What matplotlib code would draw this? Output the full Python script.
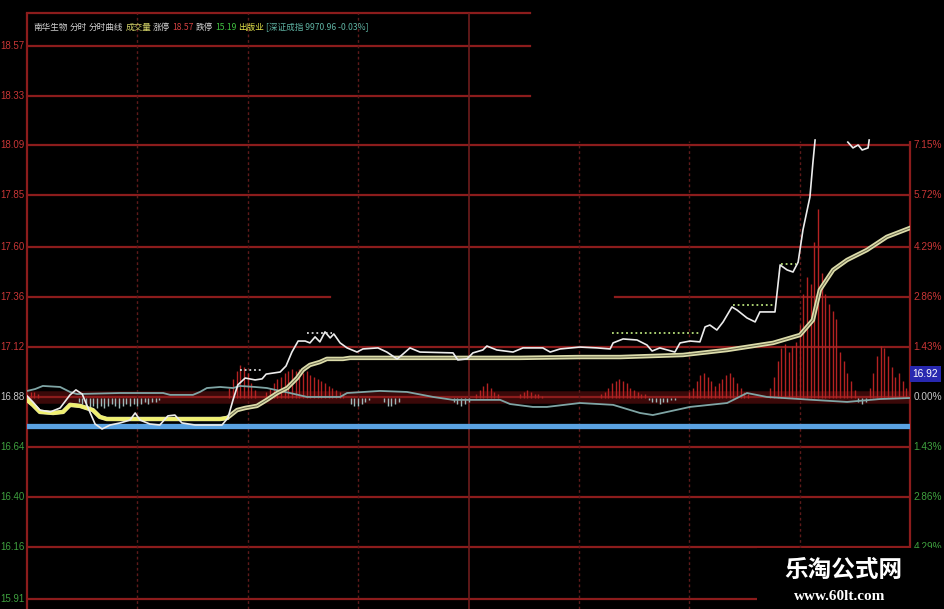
import matplotlib
matplotlib.use("Agg")
import matplotlib.pyplot as plt
from matplotlib.patches import Rectangle
from matplotlib.transforms import blended_transform_factory

# ---- data ----
prev_close = 16.88
price_ticks = [18.57, 18.33, 18.09, 17.85, 17.60, 17.36, 17.12, 16.88, 16.64, 16.40, 16.16, 15.91]
pct_labels = ["7.15%", "5.72%", "4.29%", "2.86%", "1.43%", "0.00%", "1.43%", "2.86%", "4.29%"]
pct_prices = [18.09, 17.85, 17.60, 17.36, 17.12, 16.88, 16.64, 16.40, 16.16]

# minute of day (0..240) and price of the intraday price line
price_min = [0, 1.6, 3.5, 6.3, 9, 11.7, 13.3, 15, 16.6, 18.5, 20.4, 22.6, 25.3, 28, 29.4, 30.7,
             33.4, 36.1, 38.3, 40.2, 42.1, 45.7, 53, 54.6, 56, 57.3, 59.3, 62, 63.9, 65, 68.8,
             70.4, 72, 73.7, 75.6, 76.9, 78.3, 79.6, 81, 82.4, 83.4, 85.1, 87, 89.7, 91.3, 95.4,
             97.8, 100.6, 101.9, 104.1, 106.8, 115.8, 117.1, 119.6, 121.2, 123.9, 125, 127.7,
             132.1, 134.8, 140.2, 142.2, 144.9, 150.3, 154.9, 158.5, 159.3, 162, 165.8, 168.5,
             169.9, 172, 176.1, 177.5, 180.2, 182.9, 184.3, 185.6, 187.5, 189.2, 191.6, 193,
             195.7, 197.9, 199.2, 203.3, 204.7, 206.6, 208.2, 209.6, 210.9, 212.8, 213.6, 214.2,
             218, 223.1, 224.5, 225.9, 227, 228.6, 228.9, 234]
price_val = [16.885, 16.856, 16.817, 16.808, 16.827, 16.89, 16.914, 16.894, 16.827, 16.75, 16.726,
             16.745, 16.755, 16.769, 16.803, 16.769, 16.75, 16.745, 16.789, 16.793, 16.755, 16.745,
             16.745, 16.779, 16.866, 16.938, 16.971, 16.962, 16.967, 16.99, 17.0, 17.029, 17.096,
             17.149, 17.149, 17.14, 17.169, 17.145, 17.193, 17.164, 17.183, 17.14, 17.116, 17.096,
             17.111, 17.116, 17.096, 17.063, 17.082, 17.116, 17.096, 17.092, 17.058, 17.063,
             17.092, 17.106, 17.125, 17.106, 17.096, 17.116, 17.116, 17.096, 17.111, 17.12,
             17.116, 17.111, 17.14, 17.159, 17.154, 17.13, 17.101, 17.116, 17.096, 17.14, 17.149,
             17.145, 17.217, 17.226, 17.202, 17.241, 17.313, 17.298, 17.26, 17.241, 17.289,
             17.289, 17.515, 17.491, 17.481, 17.529, 17.683, 17.842, 18.005, 18.116,
             float("nan"), 18.106, 18.078, 18.092, 18.068, 18.078, 18.116, float("nan")]

# average price line
avg_min = [0, 1.6, 3.5, 7.1, 9.8, 11.7, 14.4, 17.9, 19.8, 21.7, 52.5, 54.4, 57.1, 59.3, 62.5, 65.2,
           68, 70.7, 73.4, 75, 76.9, 79.6, 81.5, 85.9, 87.8, 134, 150.3, 161.2, 178.3, 190.3,
           202.8, 210.1, 213.6, 215.5, 219.1, 222.9, 228.3, 233.7, 240]
avg_val = [16.866, 16.842, 16.808, 16.803, 16.808, 16.842, 16.837, 16.817, 16.784, 16.774, 16.774,
           16.779, 16.817, 16.827, 16.837, 16.866, 16.899, 16.923, 16.971, 17.01, 17.034, 17.048,
           17.063, 17.063, 17.068, 17.068, 17.072, 17.072, 17.082, 17.106, 17.14, 17.178, 17.25,
           17.395, 17.491, 17.539, 17.587, 17.65, 17.693]

# grey indicator line
ind_min = [0, 2.2, 4.3, 9, 11.7, 13.6, 25.3, 37, 38.9, 45.1, 47, 48.9, 52.5, 56, 57.9, 62, 65.2,
           68.8, 71.5, 76.1, 85.1, 87, 95.9, 103.3, 110.4, 115.8, 128.6, 131.3, 137.5, 141.3,
           150.3, 159.3, 166.6, 170.1, 180.2, 190.3, 195.7, 201.1, 213.6, 222.9, 231.8, 240]
ind_val = [16.909, 16.918, 16.933, 16.928, 16.904, 16.894, 16.899, 16.899, 16.89, 16.89, 16.904,
           16.923, 16.928, 16.923, 16.933, 16.928, 16.923, 16.909, 16.899, 16.88, 16.88, 16.899,
           16.909, 16.904, 16.88, 16.866, 16.866, 16.846, 16.832, 16.832, 16.851, 16.842, 16.803,
           16.793, 16.832, 16.851, 16.899, 16.88, 16.866, 16.856, 16.87, 16.875]

# histogram bars: (first minute, bar values one per minute)
hist_runs = [
    (0, [0.02, 0.03, 0.03, 0.02]),
    (14, [-0.02, -0.03, -0.04, -0.05, -0.04, -0.05, -0.04, -0.05, -0.04, -0.03, -0.04, -0.05,
          -0.04, -0.03, -0.04, -0.03, -0.04, -0.03, -0.02, -0.03, -0.02, -0.02, -0.01]),
    (55, [0.05, 0.09, 0.13, 0.16, 0.15, 0.12, 0.07, 0.04]),
    (65, [0.03, 0.05, 0.07, 0.09, 0.10, 0.12, 0.13, 0.14, 0.13, 0.14, 0.12, 0.13, 0.11, 0.10,
          0.09, 0.08, 0.07, 0.06, 0.05, 0.04, 0.03, 0.02]),
    (88, [-0.03, -0.04, -0.04, -0.03, -0.02, -0.01]),
    (97, [-0.02, -0.04, -0.04, -0.03, -0.02]),
    (116, [-0.02, -0.03, -0.04, -0.03, -0.02]),
    (122, [0.02, 0.04, 0.06, 0.07, 0.05, 0.03, 0.02]),
    (134, [0.02, 0.03, 0.04, 0.03, 0.02, 0.02, 0.01]),
    (156, [0.02, 0.03, 0.05, 0.07, 0.08, 0.09, 0.08, 0.07, 0.05, 0.04, 0.03, 0.02, 0.02]),
    (169, [-0.01, -0.02, -0.02, -0.03, -0.02, -0.02, -0.01, -0.01]),
    (180, [0.03, 0.05, 0.08, 0.11, 0.12, 0.10, 0.08, 0.06, 0.07, 0.09, 0.11, 0.12, 0.10, 0.07,
           0.05, 0.03, 0.02]),
    (202, [0.05, 0.10, 0.18, 0.24, 0.26, 0.22, 0.25, 0.27, 0.35, 0.50, 0.58, 0.55, 0.75, 0.91,
           0.60, 0.50, 0.45, 0.42, 0.38, 0.22, 0.18, 0.12, 0.08, 0.04]),
    (226, [-0.02, -0.03, -0.02]),
    (229, [0.05, 0.12, 0.20, 0.25, 0.24, 0.20, 0.15, 0.10, 0.12, 0.08, 0.05, 0.03]),
]

# dotted level marks: (start minute, end minute, price, colour)
levels = [(58, 64, 17.01, "#d8d8d8"), (76, 83, 17.19, "#d8d8d8"),
          (159, 183, 17.19, "#b8e07a"), (192, 203, 17.32, "#b8e07a"), (205, 209, 17.52, "#b8e07a")]
support_price = 16.74

header = [("南华生物", "#d4d4d4"), ("分时", "#d4d4d4"), ("分时曲线", "#d4d4d4"),
          ("成交量", "#d6d66a"), ("涨停", "#d4d4d4"), ("18.57", "#d04040"), ("跌停", "#d4d4d4"),
          ("15.19", "#40c040"), ("出版业", "#e2e24a"), ("[深证成指 9970.96 -0.03%]", "#5fb3a3")]

# ---- figure ----
W, H = 945, 609
fig = plt.figure(figsize=(W / 100, H / 100), dpi=100, facecolor="black")
ax = fig.add_axes([27 / W, 0, 883 / W, 596 / H])
ax.set_facecolor("black")
ax.set_xlim(0, 240)
ax.set_ylim(15.86, 18.727)
for s in ax.spines.values():
    s.set_visible(False)
ax.set_xticks([])
ax.set_yticks([])

grid_c = "#8c1c1c"
cut = (530 - 27) / 883
ax.axhline(18.727, 0, cut, color=grid_c, lw=1.6, clip_on=False)
for p in price_ticks:
    if p > 18.2:
        ax.axhline(p, 0, cut, color=grid_c, lw=1.6)
    elif abs(p - 17.36) < 0.01:
        ax.axhline(p, 0, (330 - 27) / 883, color=grid_c, lw=1.6)
        ax.axhline(p, (615 - 27) / 883, 1, color=grid_c, lw=1.6)
    else:
        ax.axhline(p, 0, 1, color=grid_c, lw=1.6)
ax.axhline(prev_close, color="#3a0909", lw=9, zorder=0.5)

# vertical half-hour lines
for m in [30, 60, 90]:
    ax.vlines(m, 15.86, 18.727, color="#5e1a1a", lw=1, linestyles=(0, (2, 2)))
ax.vlines(120, 15.86, 18.727, color="#6e1c1c", lw=1.2)
for m in [150, 180, 210]:
    ax.vlines(m, 15.86, 18.11, color="#5e1a1a", lw=1, linestyles=(0, (2, 2)))
ax.vlines(0, 15.86, 18.727, color="#8c1c1c", lw=1.6, clip_on=False)
ax.vlines(240, 15.86, 18.11, color="#8c1c1c", lw=1.6, clip_on=False)

# histogram
base = 16.875
for start, vals in hist_runs:
    for i, v in enumerate(vals):
        c = "#b42222" if v > 0 else "#9fb9b9"
        ax.vlines(start + i, base, base + v, color=c, lw=1.0, zorder=2)

ax.axhline(support_price, color="#5aa2e2", lw=3.8, zorder=3)

ax.plot(ind_min, ind_val, color="#7fa5a5", lw=1.3, zorder=4)
ax.plot(avg_min, avg_val, color="#dcdcaa", lw=3.2, zorder=5, solid_joinstyle="round")
ax.plot(avg_min, avg_val, color="#666648", lw=0.7, zorder=5)
left_n = 12
ax.plot(avg_min[:left_n], avg_val[:left_n], color="#f0f070", lw=2.6, zorder=5)
ax.plot(price_min, price_val, color="#ececec", lw=1.2, zorder=6)

for a, b, p, c in levels:
    ax.hlines(p, a, b, color=c, lw=1.3, linestyles=(0, (1, 1.6)), zorder=6)

# axis labels
lt = blended_transform_factory(ax.transAxes, ax.transData)
lab_font = ["Liberation Sans", "DejaVu Sans"]
for p in price_ticks:
    if p > prev_close + 0.01:
        c = "#c83636"
    elif p < prev_close - 0.01:
        c = "#3fa03f"
    else:
        c = "#c8c8c8"
    ax.text(-0.003, p, f"{p:.2f}", transform=lt, ha="right", va="center", color=c,
            fontsize=7.0, family=lab_font)
for lab, p in zip(pct_labels, pct_prices):
    if p > prev_close + 0.01:
        c = "#c83636"
    elif p < prev_close - 0.01:
        c = "#3fa03f"
    else:
        c = "#c8c8c8"
    ax.text(1.004, p, lab, transform=lt, ha="left", va="center", color=c,
            fontsize=7.2, family=lab_font)
ax.text(1.003, 16.99, "16.92", transform=lt, ha="left", va="center", color="white",
        fontsize=7.4, family=lab_font,
        bbox=dict(boxstyle="square,pad=0.3", facecolor="#2828b0", edgecolor="none"))

# header
renderer = fig.canvas.get_renderer()
x = 33
for s, c in header:
    t = fig.text(x / W, 1 - 27 / H, s, color=c, fontsize=6.2, va="center", ha="left",
                 family=["Noto Sans CJK SC", "DejaVu Sans"])
    bb = t.get_window_extent(renderer)
    x = bb.x1 + 2

# watermark
fig.add_artist(Rectangle((757 / W, 0), (W - 757) / W, 61 / H, transform=fig.transFigure,
                         facecolor="black", edgecolor="none", zorder=5))
fig.text(843 / W, 1 - 570 / H, "乐淘公式网", color="white", fontsize=17, fontweight="bold",
         ha="center", va="center", family=["Noto Sans CJK SC"], zorder=6)
fig.text(840 / W, 1 - 597 / H, "www.60lt.com", color="white", fontsize=11, fontweight="bold",
         ha="center", va="center", family=["Liberation Serif", "DejaVu Serif"], zorder=6)

fig.savefig("out.png", dpi=100, facecolor="black")
